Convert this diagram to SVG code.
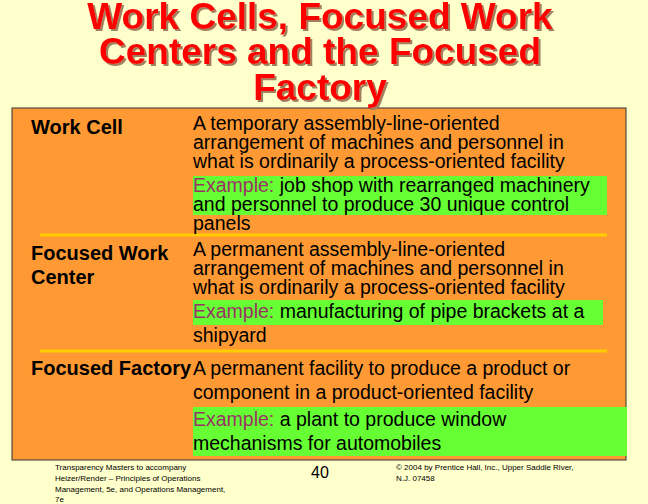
<svg xmlns="http://www.w3.org/2000/svg" width="648" height="504" viewBox="0 0 648 504">
<defs>
<filter id="sh" x="-5%" y="-20%" width="110%" height="150%">
<feDropShadow dx="2" dy="2" stdDeviation="0" flood-color="#A08060"/>
</filter>
</defs>
<style>
.t{font-family:"Liberation Sans",Arial,sans-serif;font-size:19.5px;fill:#000}
.b{font-weight:bold;font-size:20px}
.ex{fill:#993366}
.title{font-family:"Liberation Sans",Arial,sans-serif;font-size:37px;font-weight:bold;fill:#FF0000;text-anchor:middle}
.f{font-family:"Liberation Sans",Arial,sans-serif;font-size:8px;fill:#000}
</style>
<rect width="648" height="504" fill="#FFFFCC"/>
<rect x="12" y="108" width="614" height="352" fill="#FF9933" stroke="#333" stroke-width="1"/>
<g id="title" filter="url(#sh)">
<text class="title" x="320" y="29">Work Cells, Focused Work</text>
<text class="title" x="320" y="64">Centers and the Focused</text>
<text class="title" x="320" y="100">Factory</text>
</g>
<g id="separators">
<line x1="40" y1="235" x2="607" y2="235" stroke="#FFCC00" stroke-width="3"/>
<line x1="40" y1="351" x2="607" y2="351" stroke="#FFCC00" stroke-width="3"/>
</g>
<g id="workcell">
<text class="t b" x="31" y="134">Work Cell</text>
<text class="t" x="193" y="130">A temporary assembly-line-oriented</text>
<text class="t" x="193" y="149">arrangement of machines and personnel in</text>
<text class="t" x="193" y="168">what is ordinarily a process-oriented facility</text>
<rect x="193" y="176" width="414" height="39" fill="#66FF33"/>
<text class="t" x="193" y="192"><tspan class="ex">Example:</tspan> job shop with rearranged machinery</text>
<text class="t" x="193" y="211">and personnel to produce 30 unique control</text>
<text class="t" x="193" y="230">panels</text>
</g>
<g id="focusedwork">
<text class="t b" x="31" y="260">Focused Work</text>
<text class="t b" x="31" y="284">Center</text>
<text class="t" x="193" y="256">A permanent assembly-line-oriented</text>
<text class="t" x="193" y="275">arrangement of machines and personnel in</text>
<text class="t" x="193" y="294">what is ordinarily a process-oriented facility</text>
<rect x="193" y="300" width="410" height="25" fill="#66FF33"/>
<text class="t" x="193" y="318"><tspan class="ex">Example:</tspan> manufacturing of pipe brackets at a</text>
<text class="t" x="193" y="342">shipyard</text>
</g>
<g id="focusedfactory">
<text class="t b" x="31" y="375">Focused Factory</text>
<text class="t" x="193" y="375">A permanent facility to produce a product or</text>
<text class="t" x="193" y="399">component in a product-oriented facility</text>
<rect x="193" y="407" width="434" height="49" fill="#66FF33"/>
<text class="t" x="193" y="426"><tspan class="ex">Example:</tspan> a plant to produce window</text>
<text class="t" x="193" y="450">mechanisms for automobiles</text>
</g>
<g id="footer">
<text class="f" x="55" y="470">Transparency Masters to accompany</text>
<text class="f" x="55" y="481">Heizer/Render – Principles of Operations</text>
<text class="f" x="55" y="492">Management, 5e, and Operations Management,</text>
<text class="f" x="55" y="502">7e</text>
<text x="320" y="478" font-family="Liberation Sans,Arial,sans-serif" font-size="16" text-anchor="middle">40</text>
<text class="f" x="396" y="470">© 2004 by Prentice Hall, Inc.,  Upper Saddle River,</text>
<text class="f" x="396" y="481">N.J. 07458</text>
</g>
</svg>
